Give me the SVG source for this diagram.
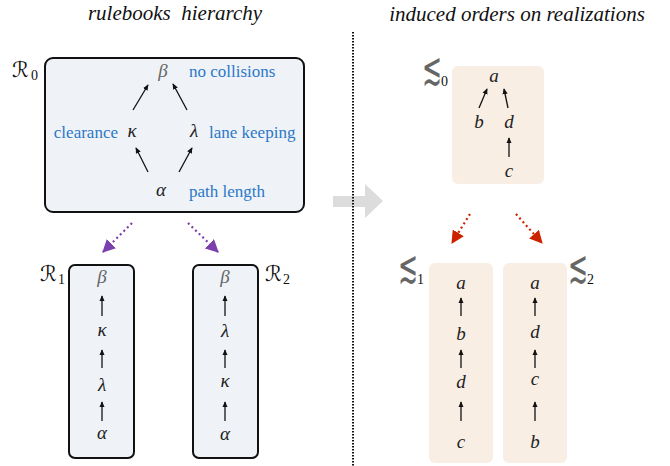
<svg xmlns="http://www.w3.org/2000/svg" width="670" height="466" viewBox="0 0 670 466">
<defs>
<style>
.title{font-family:"Liberation Serif",serif;font-style:italic;font-size:21px;fill:#111;text-anchor:middle}
.m{font-family:"Liberation Serif","DejaVu Serif",serif;font-style:italic;font-size:19px;fill:#222;text-anchor:middle}
.beta{fill:#666}
.lab{font-family:"Liberation Serif",serif;font-size:17px;fill:#2b78c8}
.sym{font-family:"DejaVu Serif","DejaVu Sans",serif;font-size:21px;fill:#111}
.le{font-family:"DejaVu Sans",sans-serif;font-size:28px;fill:#666}
.sub{font-family:"Liberation Serif",serif;font-size:14px;fill:#111}
.rb{fill:#eff3f7;stroke:#111;stroke-width:2}
.ob{fill:#f8eee4;stroke:none}
.ar{stroke:#111;stroke-width:1.3;fill:none;marker-end:url(#ah)}
.pd{stroke:#7b3fae;stroke-width:2.2;stroke-dasharray:2 3;fill:none;marker-end:url(#ph)}
.rd{stroke:#cc2200;stroke-width:2.2;stroke-dasharray:2 3;fill:none;marker-end:url(#rh)}
</style>
<marker id="ah" viewBox="0 0 8 8" refX="7" refY="4" markerWidth="6" markerHeight="6" markerUnits="userSpaceOnUse" orient="auto"><path d="M0,0.5 L8,4 L0,7.5 z" fill="#111"/></marker>
<marker id="ph" viewBox="0 0 12 12" refX="11" refY="6" markerWidth="13" markerHeight="13" markerUnits="userSpaceOnUse" orient="auto"><path d="M0,0 L12,6 L0,12 z" fill="#7b3fae"/></marker>
<marker id="rh" viewBox="0 0 12 12" refX="11" refY="6" markerWidth="13" markerHeight="13" markerUnits="userSpaceOnUse" orient="auto"><path d="M0,0 L12,6 L0,12 z" fill="#cc2200"/></marker>
</defs>
<rect width="670" height="466" fill="#fff"/>

<text class="title" x="175" y="20" xml:space="preserve">rulebooks  hierarchy</text>
<text class="title" x="517" y="21">induced orders on realizations</text>

<!-- big gray arrow -->
<polygon id="bigarrow" points="333,196 365,196 365,184 383,201 365,218 365,207 333,207" fill="#dcdcdc"/>
<line x1="353" y1="32" x2="353" y2="466" stroke="#111" stroke-width="2" stroke-dasharray="1.5 1.5"/>

<g id="R0">
<rect class="rb" x="45" y="58" width="259" height="154" rx="8"/>
<text class="sym" x="12" y="77">ℛ</text><text class="sub" x="31" y="80">0</text>
<text class="m beta" x="163" y="77">β</text>
<text class="m" x="132" y="137">κ</text>
<text class="m" x="194" y="137">λ</text>
<text class="m" x="161" y="196">α</text>
<text class="lab" x="189" y="77">no collisions</text>
<text class="lab" x="118" y="138" text-anchor="end">clearance</text>
<text class="lab" x="209" y="138">lane keeping</text>
<text class="lab" x="189" y="197">path length</text>
</g>

<g id="R1">
<rect class="rb" x="69" y="265" width="65" height="193" rx="6"/>
<text class="sym" x="40" y="281">ℛ</text><text class="sub" x="58" y="284">1</text>
<text class="m beta" x="102" y="283">β</text>
<text class="m" x="102" y="336">κ</text>
<text class="m" x="102" y="391">λ</text>
<text class="m" x="102" y="439">α</text>
</g>

<g id="R2">
<rect class="rb" x="193" y="265" width="65" height="193" rx="6"/>
<text class="sym" x="265" y="281">ℛ</text><text class="sub" x="283" y="284">2</text>
<text class="m beta" x="225" y="283">β</text>
<text class="m" x="225" y="337">λ</text>
<text class="m" x="225" y="387">κ</text>
<text class="m" x="225" y="440">α</text>
</g>

<g id="O0">
<rect class="ob" x="452" y="66" width="92" height="118" rx="6"/>
<text class="le" transform="translate(422,84) scale(0.85,1.6)">≲</text><text class="sub" x="441" y="86">0</text>
<text class="m" x="494" y="82">a</text>
<text class="m" x="479" y="128">b</text>
<text class="m" x="509" y="128">d</text>
<text class="m" x="509" y="177">c</text>
</g>

<g id="O1">
<rect class="ob" x="429" y="263" width="64" height="200" rx="6"/>
<text class="le" transform="translate(398,282) scale(0.85,1.6)">≲</text><text class="sub" x="417" y="284">1</text>
<text class="m" x="461" y="289">a</text>
<text class="m" x="461" y="340">b</text>
<text class="m" x="461" y="388">d</text>
<text class="m" x="461" y="448">c</text>
</g>

<g id="O2">
<rect class="ob" x="503" y="263" width="64" height="200" rx="6"/>
<text class="le" transform="translate(568,282) scale(0.85,1.6)">≲</text><text class="sub" x="587" y="284">2</text>
<text class="m" x="535" y="289">a</text>
<text class="m" x="535" y="338">d</text>
<text class="m" x="535" y="385">c</text>
<text class="m" x="535" y="448">b</text>
</g>

<g id="connectors">
<line class="ar" x1="133" y1="110" x2="148" y2="85"/>
<line class="ar" x1="187" y1="110" x2="173" y2="84"/>
<line class="ar" x1="148" y1="172" x2="136" y2="148"/>
<line class="ar" x1="179" y1="172" x2="192" y2="148"/>

<line class="ar" x1="102" y1="316" x2="102" y2="296"/>
<line class="ar" x1="102" y1="368" x2="102" y2="350"/>
<line class="ar" x1="102" y1="421" x2="102" y2="402"/>
<line class="ar" x1="225" y1="316" x2="225" y2="296"/>
<line class="ar" x1="225" y1="368" x2="225" y2="350"/>
<line class="ar" x1="225" y1="421" x2="225" y2="402"/>

<line class="ar" x1="479" y1="108" x2="487" y2="89"/>
<line class="ar" x1="508" y1="108" x2="504" y2="89"/>
<line class="ar" x1="509" y1="157" x2="509" y2="138"/>

<line class="ar" x1="461" y1="316" x2="461" y2="298"/>
<line class="ar" x1="461" y1="368" x2="461" y2="350"/>
<line class="ar" x1="461" y1="421" x2="461" y2="402"/>
<line class="ar" x1="535" y1="316" x2="535" y2="298"/>
<line class="ar" x1="535" y1="368" x2="535" y2="350"/>
<line class="ar" x1="535" y1="421" x2="535" y2="402"/>

<line class="pd" x1="132" y1="223" x2="103" y2="252"/>
<line class="pd" x1="188" y1="223" x2="218" y2="252"/>
<line class="rd" x1="470" y1="214" x2="452" y2="243"/>
<line class="rd" x1="516" y1="214" x2="542" y2="243"/>
</g>
</svg>
